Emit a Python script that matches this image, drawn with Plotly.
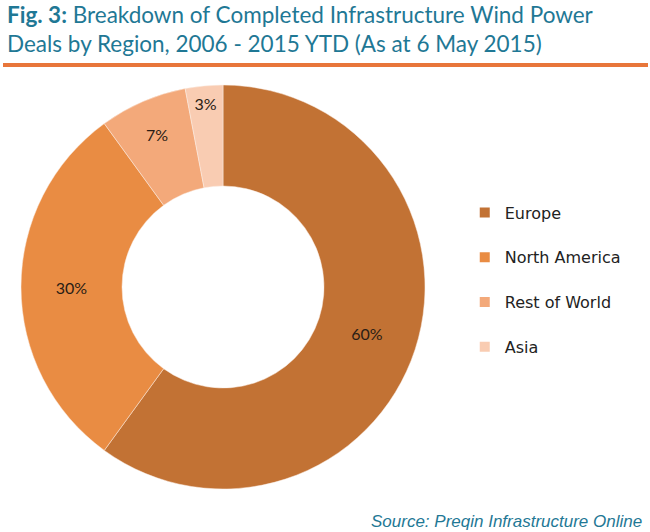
import plotly.graph_objects as go

# data
regions = ['Europe', 'North America', 'Rest of World', 'Asia']
shares = [60, 30, 7, 3]
slice_colors = ['#C27234', '#E98C43', '#F3A97A', '#F9CCB2']

W, H = 650, 532
teal = '#1F7895'

fig = go.Figure()

fig.add_trace(go.Pie(
    labels=regions,
    values=shares,
    sort=False,
    direction='clockwise',
    rotation=0,
    hole=0.5,
    marker=dict(colors=slice_colors, line=dict(color='#FBEFE6', width=0.5)),
    texttemplate='%{value}%',
    textposition='inside',
    insidetextorientation='horizontal',
    textfont=dict(family='Lato', size=16, color='#2a1d15'),
    showlegend=False,
    domain=dict(x=[21 / W, 425 / W], y=[1 - 489 / H, 1 - 85 / H]),
))

# legend entries (spaced out like the original)
for name, col in zip(regions, slice_colors):
    fig.add_trace(go.Scatter(
        x=[None], y=[None], mode='markers', name=name, legendgroup=name,
        marker=dict(symbol='square', size=10, color=col),
        showlegend=True,
    ))

fig.update_layout(
    width=W, height=H,
    margin=dict(l=0, r=0, t=0, b=0),
    paper_bgcolor='white',
    plot_bgcolor='white',
    xaxis=dict(visible=False),
    yaxis=dict(visible=False),
    legend=dict(
        x=0.715, y=1 - 280 / H, xanchor='left', yanchor='middle',
        font=dict(family='DejaVu Sans', size=16, color='#222222'),
        tracegroupgap=21,
        itemwidth=30,
    ),
    annotations=[
        dict(
            text='<b>Fig. 3:</b> Breakdown of Completed Infrastructure Wind Power<br>'
                 'Deals by Region, 2006 - 2015 YTD (As at 6 May 2015)',
            x=5 / W, y=1 - 29 / H, xref='paper', yref='paper',
            xanchor='left', yanchor='middle', align='left', showarrow=False,
            font=dict(family='Lato', size=22.5, color=teal),
        ),
        dict(
            text='<i>Source: Preqin Infrastructure Online</i>',
            x=644 / W, y=1 - 521 / H, xref='paper', yref='paper',
            xanchor='right', yanchor='middle', showarrow=False,
            font=dict(family='Liberation Sans', size=17, color=teal),
        ),
    ],
    shapes=[
        dict(type='line', xref='paper', yref='paper',
             x0=3 / W, x1=648 / W, y0=1 - 65 / H, y1=1 - 65 / H,
             line=dict(color='#E8763A', width=4)),
    ],
)

fig.write_html('out.html', config={'displayModeBar': False},
               post_script="document.body.style.margin='0px';")
